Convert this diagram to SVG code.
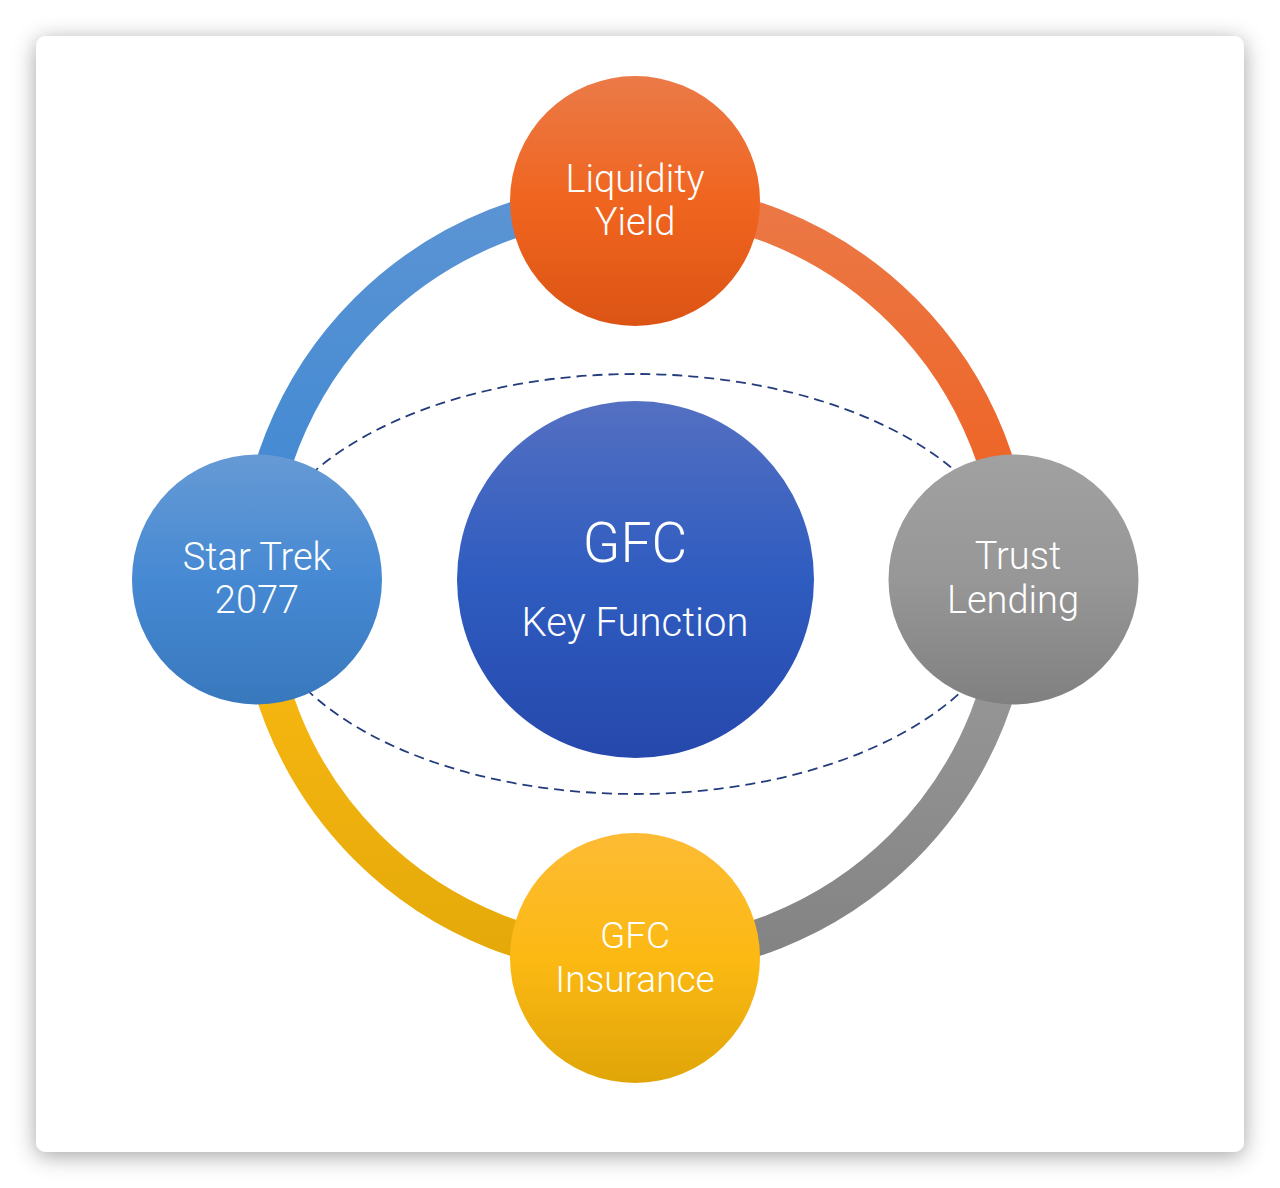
<svg xmlns="http://www.w3.org/2000/svg" width="1280" height="1188" viewBox="0 0 1280 1188">
  <defs>
    <filter id="cardShadow" x="-10%" y="-10%" width="120%" height="120%">
      <feDropShadow dx="0" dy="4" stdDeviation="11" flood-color="#000" flood-opacity="0.36"/>
    </filter>
    <linearGradient id="gBlueArc" gradientUnits="userSpaceOnUse" x1="0" y1="200" x2="0" y2="579">
      <stop offset="0" stop-color="#5b94d4"/>
      <stop offset="1" stop-color="#3b86d2"/>
    </linearGradient>
    <linearGradient id="gOrangeArc" gradientUnits="userSpaceOnUse" x1="0" y1="200" x2="0" y2="579">
      <stop offset="0" stop-color="#eb7846"/>
      <stop offset="1" stop-color="#ef5e1b"/>
    </linearGradient>
    <linearGradient id="gGrayArc" gradientUnits="userSpaceOnUse" x1="0" y1="579" x2="0" y2="958">
      <stop offset="0" stop-color="#9d9d9d"/>
      <stop offset="1" stop-color="#838383"/>
    </linearGradient>
    <linearGradient id="gYellowArc" gradientUnits="userSpaceOnUse" x1="0" y1="579" x2="0" y2="958">
      <stop offset="0" stop-color="#fdbb14"/>
      <stop offset="1" stop-color="#e4a909"/>
    </linearGradient>
    <linearGradient id="gOrange" x1="0" y1="0" x2="0" y2="1">
      <stop offset="0" stop-color="#eb7a48"/>
      <stop offset="0.5" stop-color="#f0651f"/>
      <stop offset="1" stop-color="#dc5414"/>
    </linearGradient>
    <linearGradient id="gCenter" x1="0" y1="0" x2="0" y2="1">
      <stop offset="0" stop-color="#5470c2"/>
      <stop offset="0.5" stop-color="#2f5cc0"/>
      <stop offset="1" stop-color="#2648ac"/>
    </linearGradient>
    <linearGradient id="gBlue" x1="0" y1="0" x2="0" y2="1">
      <stop offset="0" stop-color="#669ad5"/>
      <stop offset="0.5" stop-color="#4689d3"/>
      <stop offset="1" stop-color="#3878bd"/>
    </linearGradient>
    <linearGradient id="gGray" x1="0" y1="0" x2="0" y2="1">
      <stop offset="0" stop-color="#a1a1a1"/>
      <stop offset="0.5" stop-color="#979797"/>
      <stop offset="1" stop-color="#808080"/>
    </linearGradient>
    <linearGradient id="gYellow" x1="0" y1="0" x2="0" y2="1">
      <stop offset="0" stop-color="#fdbb35"/>
      <stop offset="0.5" stop-color="#fcb913"/>
      <stop offset="1" stop-color="#e0a508"/>
    </linearGradient>
  </defs>
  <style>
    .arc { fill: none; stroke-width: 36; }
    .dash { fill: none; stroke: #233c7c; stroke-width: 1.8; stroke-dasharray: 10 6; }
    .lbl { fill: #ffffff; font-family: Roboto, "Liberation Sans", sans-serif; font-weight: 300; text-anchor: middle; font-size: 38px; }
  </style>
  <rect x="0" y="0" width="1280" height="1188" fill="#ffffff"/>
  <rect id="card" x="36" y="36" width="1208" height="1116" rx="10" fill="#ffffff" filter="url(#cardShadow)"/>

  <g id="connectors">
    <path class="arc" stroke="url(#gBlueArc)" d="M256,579 A379,379 0 0 1 635,200"/>
    <path class="arc" stroke="url(#gOrangeArc)" d="M635,200 A379,379 0 0 1 1014,579"/>
    <path class="arc" stroke="url(#gGrayArc)" d="M1014,579 A379,379 0 0 1 635,958"/>
    <path class="arc" stroke="url(#gYellowArc)" d="M635,958 A379,379 0 0 1 256,579"/>
    <ellipse class="dash" cx="635" cy="584" rx="380" ry="210"/>
  </g>

  <g id="node-center">
    <circle cx="635.5" cy="579.5" r="178.5" fill="url(#gCenter)"/>
    <text class="lbl" x="635" y="562" style="font-size:55px">GFC</text>
    <text class="lbl" x="635" y="636" style="font-size:40px">Key Function</text>
  </g>

  <g id="node-liquidity">
    <circle cx="635" cy="201" r="125" fill="url(#gOrange)"/>
    <text class="lbl" x="635" y="192">Liquidity</text>
    <text class="lbl" x="635" y="235">Yield</text>
  </g>

  <g id="node-trust">
    <circle cx="1013.5" cy="579.5" r="125" fill="url(#gGray)"/>
    <text class="lbl" x="1018" y="569">Trust</text>
    <text class="lbl" x="1013" y="613">Lending</text>
  </g>

  <g id="node-insurance">
    <circle cx="635" cy="958" r="125" fill="url(#gYellow)"/>
    <text class="lbl" x="635" y="948" style="font-size:37px">GFC</text>
    <text class="lbl" x="635" y="992" style="font-size:37px">Insurance</text>
  </g>

  <g id="node-startrek">
    <circle cx="257" cy="579.5" r="125" fill="url(#gBlue)"/>
    <text class="lbl" x="257" y="570">Star Trek</text>
    <text class="lbl" x="257" y="613">2077</text>
  </g>
</svg>
